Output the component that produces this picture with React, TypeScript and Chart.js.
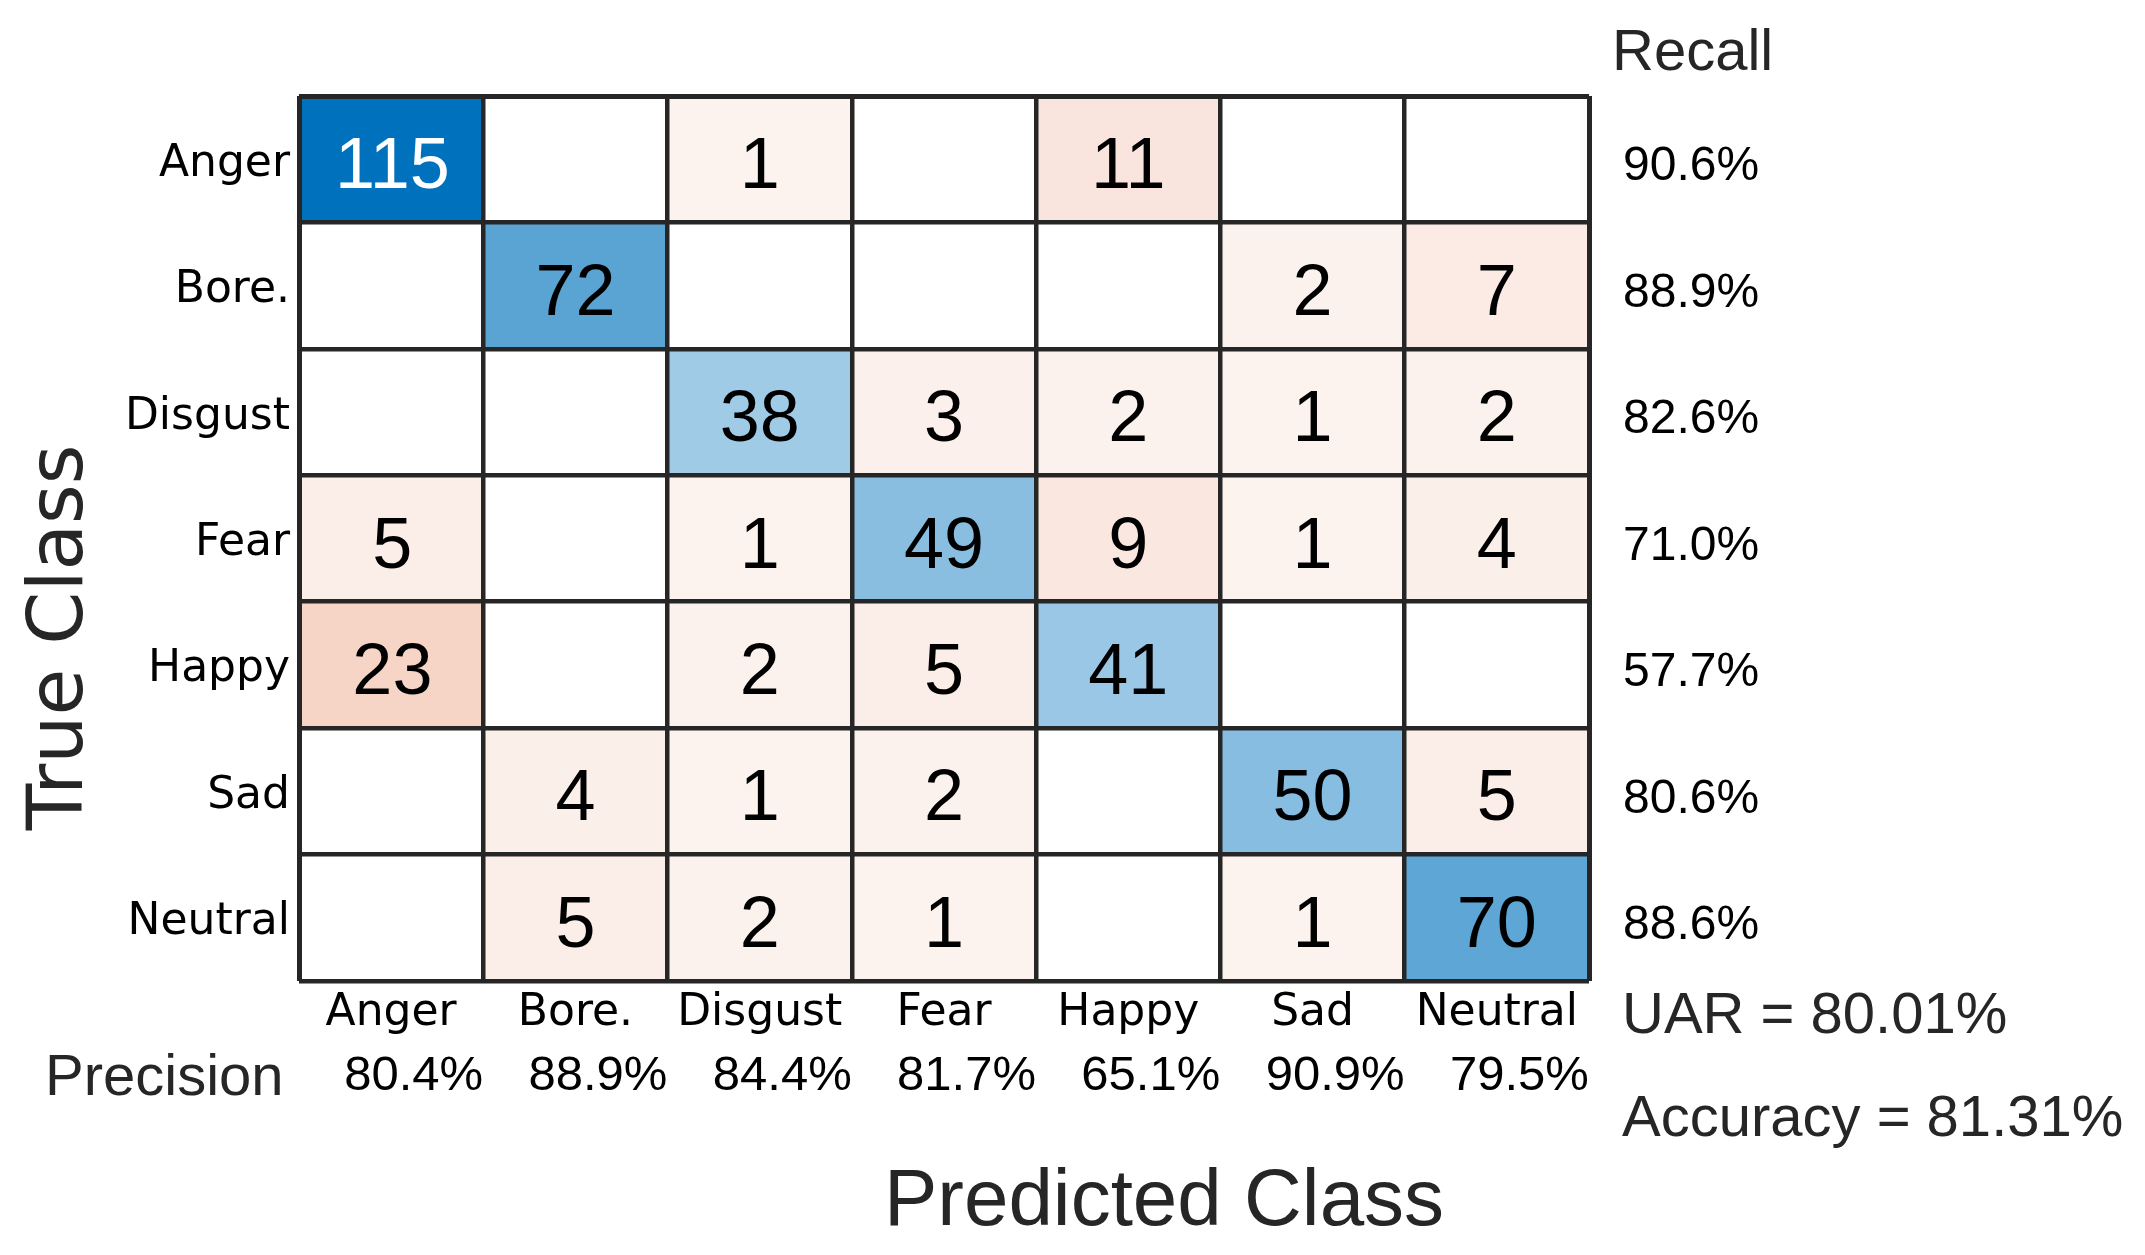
import React, { useEffect, useRef } from 'react';
import { Chart, registerables } from 'chart.js';

Chart.register(...registerables);

// ---- data ----
const trueClasses = ['Anger', 'Bore.', 'Disgust', 'Fear', 'Happy', 'Sad', 'Neutral'];
const predictedClasses = ['Anger', 'Bore.', 'Disgust', 'Fear', 'Happy', 'Sad', 'Neutral'];

const angerRow = [115, 0, 1, 0, 11, 0, 0];
const boreRow = [0, 72, 0, 0, 0, 2, 7];
const disgustRow = [0, 0, 38, 3, 2, 1, 2];
const fearRow = [5, 0, 1, 49, 9, 1, 4];
const happyRow = [23, 0, 2, 5, 41, 0, 0];
const sadRow = [0, 4, 1, 2, 0, 50, 5];
const neutralRow = [0, 5, 2, 1, 0, 1, 70];

const recallLabels = ['90.6%', '88.9%', '82.6%', '71.0%', '57.7%', '80.6%', '88.6%'];
const precisionLabels = ['80.4%', '88.9%', '84.4%', '81.7%', '65.1%', '90.9%', '79.5%'];
const uarText = 'UAR = 80.01%';
const accuracyText = 'Accuracy = 81.31%';
const recallTitle = 'Recall';
const precisionTitle = 'Precision';
const xTitle = 'Predicted Class';
const yTitle = 'True Class';

const matrix = [angerRow, boreRow, disgustRow, fearRow, happyRow, sadRow, neutralRow];

// ---- styling ----
const DIAG_RGB = [0, 114, 189];
const OFF_RGB = [217, 83, 25];
const LINE = '#262626';
const TITLE = '#262626';
const ARIAL = "'Liberation Sans', Arial, sans-serif";
const DEJAVU = "'DejaVu Sans', sans-serif";
const maxValue = Math.max(...matrix.map((r) => Math.max(...r)));

function cellRgb(v: number, diag: boolean): number[] {
  if (v <= 0) return [255, 255, 255];
  const t = 0.06 + (0.94 * v) / maxValue;
  const base = diag ? DIAG_RGB : OFF_RGB;
  return base.map((b) => Math.round(255 + (b - 255) * t));
}
const rgbStr = (c: number[]) => `rgb(${c[0]},${c[1]},${c[2]})`;
const isDark = (c: number[]) => (0.299 * c[0] + 0.587 * c[1] + 0.114 * c[2]) / 255 < 0.5;

const edgeWidth = (n: number) => (ctx: any) => (ctx.index === 0 || ctx.index === n ? 5 : 4.5);

const cellTextPlugin = {
  id: 'cellText',
  afterDatasetsDraw(chart: any) {
    const ctx = chart.ctx;
    ctx.save();
    ctx.font = `72px ${ARIAL}`;
    ctx.textAlign = 'center';
    ctx.textBaseline = 'alphabetic';
    chart.data.datasets.forEach((ds: any, c: number) => {
      const meta = chart.getDatasetMeta(c);
      meta.data.forEach((el: any, r: number) => {
        const raw = ds.data[r];
        if (!raw || !raw.v) return;
        const p = el.getProps(['x', 'base', 'y'], true);
        const rgb = cellRgb(raw.v, r === c);
        ctx.fillStyle = isDark(rgb) ? '#ffffff' : '#000000';
        ctx.fillText(String(raw.v), (p.x + p.base) / 2, p.y + 29);
      });
    });
    ctx.restore();
  },
};

const annotationPlugin = {
  id: 'annotations',
  afterDraw(chart: any) {
    const ctx = chart.ctx;
    const ca = chart.chartArea;
    ctx.save();
    ctx.fillStyle = TITLE;
    ctx.textBaseline = 'alphabetic';
    ctx.textAlign = 'left';
    ctx.font = `58px ${ARIAL}`;
    ctx.fillText(recallTitle, ca.right + 23, ca.top - 26);
    ctx.fillText(precisionTitle, ca.left - 254, ca.bottom + 114);
    ctx.fillText(uarText, ca.right + 33, ca.bottom + 52);
    ctx.fillText(accuracyText, ca.right + 33, ca.bottom + 155);
    ctx.textAlign = 'center';
    ctx.font = `80px ${ARIAL}`;
    ctx.fillText(xTitle, (ca.left + ca.right) / 2 + 220, ca.bottom + 244);
    ctx.save();
    ctx.translate(ca.left - 217, (ca.top + ca.bottom) / 2 + 99);
    ctx.rotate(-Math.PI / 2);
    ctx.font = `76px ${DEJAVU}`;
    ctx.textAlign = 'center';
    ctx.fillText(yTitle, 0, 0);
    ctx.restore();
    ctx.restore();
  },
};

export default function App() {
  const canvasRef = useRef<HTMLCanvasElement | null>(null);

  useEffect(() => {
    const canvas = canvasRef.current;
    if (!canvas) return;

    const datasets = predictedClasses.map((pc, c) => ({
      label: pc,
      data: trueClasses.map((tc, r) => ({ y: tc, x: [c, c + 1], v: matrix[r][c] })),
      backgroundColor: trueClasses.map((_, r) => rgbStr(cellRgb(matrix[r][c], r === c))),
      borderWidth: 0,
      barPercentage: 1,
      categoryPercentage: 1,
      grouped: false,
    }));

    const chart = new Chart(canvas, {
      type: 'bar',
      data: { labels: trueClasses, datasets } as any,
      options: {
        indexAxis: 'y',
        responsive: false,
        animation: false,
        devicePixelRatio: 1,
        layout: { padding: { top: 96, bottom: 154, left: 0, right: 0 } },
        plugins: { legend: { display: false }, tooltip: { enabled: false }, title: { display: false } },
        scales: {
          x: {
            type: 'linear',
            min: 0,
            max: predictedClasses.length,
            position: 'bottom',
            weight: 0,
            ticks: { display: false, stepSize: 1 },
            grid: { color: LINE, lineWidth: edgeWidth(predictedClasses.length), drawTicks: false, z: 1 },
            border: { display: false },
            afterFit: (s: any) => { s.height = 0; },
          },
          xl: {
            type: 'category',
            labels: predictedClasses,
            position: 'bottom',
            weight: 1,
            offset: true,
            grid: { display: false, drawTicks: false },
            border: { display: false },
            ticks: { font: { family: DEJAVU, size: 44 }, color: '#000', padding: 6, maxRotation: 0, autoSkip: false },
            afterFit: (s: any) => { s.height = 60; },
          },
          xp: {
            type: 'category',
            labels: precisionLabels,
            position: 'bottom',
            weight: 2,
            offset: true,
            grid: { display: false, drawTicks: false },
            border: { display: false },
            ticks: {
              font: { family: ARIAL, size: 49 },
              color: '#000',
              padding: 6,
              align: 'end',
              labelOffset: 92,
              maxRotation: 0,
              autoSkip: false,
            },
            afterFit: (s: any) => { s.height = 60; },
          },
          y: {
            type: 'category',
            labels: trueClasses,
            position: 'left',
            offset: true,
            grid: { offset: true, color: LINE, lineWidth: edgeWidth(trueClasses.length), drawTicks: false, z: 1 },
            border: { display: false },
            ticks: { font: { family: DEJAVU, size: 44 }, color: '#000', padding: 9, labelOffset: 5, autoSkip: false },
            afterFit: (s: any) => { s.width = 299; },
          },
          yr: {
            type: 'category',
            labels: recallLabels,
            position: 'right',
            offset: true,
            grid: { display: false, drawTicks: false },
            border: { display: false },
            ticks: { font: { family: ARIAL, size: 48 }, color: '#000', padding: 34, labelOffset: 8, autoSkip: false },
            afterFit: (s: any) => { s.width = 556; },
          },
        },
      } as any,
      plugins: [cellTextPlugin, annotationPlugin],
    });

    return () => chart.destroy();
  }, []);

  return (
    <div style={{ position: 'fixed', left: 0, top: 0, width: 2145, height: 1255, background: '#fff' }}>
      <canvas ref={canvasRef} width={2145} height={1255} style={{ width: 2145, height: 1255, display: 'block' }} />
    </div>
  );
}
